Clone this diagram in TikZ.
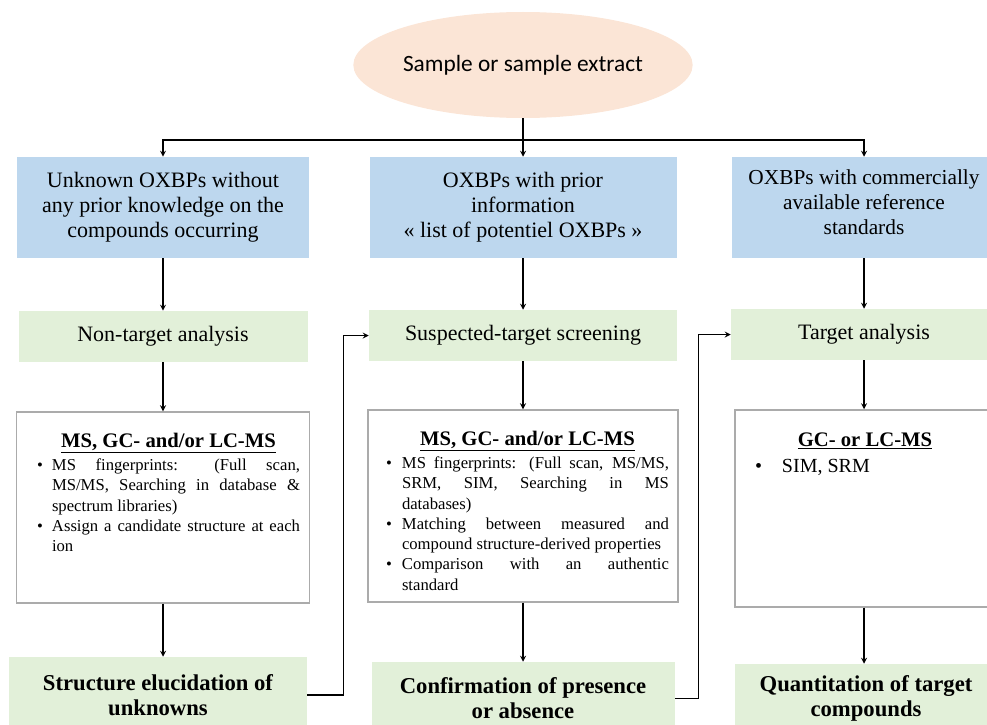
\documentclass[tikz,border=0pt]{standalone}
\usepackage{fontspec}
\setmainfont{Liberation Serif}
\newfontfamily\calibri{Carlito}
\usetikzlibrary{shapes.geometric}

\definecolor{peach}{HTML}{FBE5D6}
\definecolor{skyblue}{HTML}{BDD7EE}
\definecolor{mint}{HTML}{E2F0D9}
\definecolor{greyline}{HTML}{ABABAB}

\hyphenpenalty=10000
\exhyphenpenalty=10000
\newcommand{\heading}[1]{\par\centerline{\bfseries\fontsize{15.5}{18}\selectfont\underline{#1}}\par\vspace{2pt}}
\newcommand{\entry}[2]{\par\noindent\hangindent=#1\hangafter=1\makebox[#1][l]{\textbullet}#2\par}

\begin{document}
\begin{tikzpicture}[x=0.75pt,y=-0.75pt,>=stealth,
  sample/.style={ellipse, fill=peach, inner sep=0pt, font=\calibri\fontsize{17.5}{20}\selectfont},
  info/.style={fill=skyblue, inner sep=0pt, align=center, font=\fontsize{16.5}{18.75}\selectfont},
  method/.style={fill=mint, inner sep=0pt, font=\fontsize{16.5}{19}\selectfont},
  outcome/.style={fill=mint, inner sep=0pt, align=center, font=\bfseries\fontsize{17}{18.75}\selectfont},
  instrument/.style={draw=greyline, line width=1.1pt, fill=white, inner sep=0pt},
  listing/.style={inner sep=0pt, align=justify, font=\fontsize{12.5}{15.2}\selectfont},
  wd/.style={minimum width=#1*0.75pt},
  ht/.style={minimum height=#1*0.75pt},
  link/.style={->, line width=1pt}]
  \clip (0,0) rectangle (987,724);

  \node [sample, wd=282, ht=106] (sample) at (523,65) {Sample or sample extract};
  \coordinate (split) at (523,140);

  % information available
  \node [info, wd=292, ht=101] (unknown) at (163,207.5) {Unknown OXBPs without\\ any prior knowledge on the\\ compounds occurring};
  \node [info, wd=307, ht=101] (prior) at (523,207.5) {OXBPs with prior\\ information\\ « list of potentiel OXBPs »};
  \node [info, wd=264, ht=101, font=\fontsize{16}{18.75}\selectfont] (commercial) at (864,207.5) {OXBPs with commercially\\ available reference\\ standards\vphantom{p}\\[-11.25pt]};

  % strategy
  \node [method, wd=289, ht=51] (nontarget) at (163,336.5) {Non-target analysis};
  \node [method, wd=308, ht=51] (suspect) at (523,335.5) {Suspected-target screening};
  \node [method, wd=266, ht=51] (target) at (864,334.5) {Target analysis};

  % instruments
  \node [instrument, wd=293, ht=191] (msleft) at (163,507.5) {};
  \node [instrument, wd=310, ht=192] (msmid) at (523,506) {};
  \node [instrument, wd=258, ht=197] (msright) at (864,508.5) {};

  \node [listing, anchor=north, text width=197.25pt] (leftlist) at (168.5,427) {\heading{MS, GC- and/or LC-MS}
    \entry{11.25pt}{MS fingerprints: (Full scan,\linebreak MS/MS, Searching in database \&\linebreak spectrum libraries)}
    \entry{11.25pt}{Assign a candidate structure at each ion}};
  \node [listing, anchor=north, text width=212.25pt] (midlist) at (527.5,425) {\heading{MS, GC- and/or LC-MS}
    \entry{12pt}{MS fingerprints: (Full scan, MS/MS,\linebreak SRM, SIM, Searching in MS\linebreak databases)}
    \entry{12pt}{Matching between measured and\linebreak compound structure-derived properties}
    \entry{12pt}{Comparison with an authentic\linebreak standard}};
  \node [listing, anchor=north, text width=165pt, font=\fontsize{15}{18}\selectfont] (rightlist) at (865,422) {\heading{GC- or LC-MS}
    \entry{20.25pt}{SIM, SRM}};

  % results
  \node [outcome, wd=298, ht=76] (structure) at (158,695) {Structure elucidation of\\ unknowns};
  \node [outcome, wd=303, ht=73] (confirm) at (523,698.5) {Confirmation of presence\\ or absence};
  \node [outcome, wd=262, ht=69] (quant) at (866,698.5) {Quantitation of target\\ compounds};

  \draw [line width=1pt] (sample) -- (split);
  \draw [link] (split) -| (unknown.north);
  \draw [link] (split) -| (commercial.north);
  \path [link]
  (split) edge [] (prior)
  (unknown) edge [] (nontarget)
  (prior) edge [] (suspect)
  (commercial) edge [] (target)
  (nontarget) edge [] (msleft)
  (suspect) edge [] (msmid)
  (target) edge [] (msright)
  (msmid) edge [] (confirm)
  (msright.south) edge [] (msright.south |- quant.north)
  (msleft.south) edge [] (msleft.south |- structure.north);

  % feedback to the next strategy
  \draw [link] (structure.east) -- ++(36,0) |- (suspect.west);
  \draw [link] (confirm.east) -- ++(24,0) |- (target.west);
\end{tikzpicture}
\end{document}
